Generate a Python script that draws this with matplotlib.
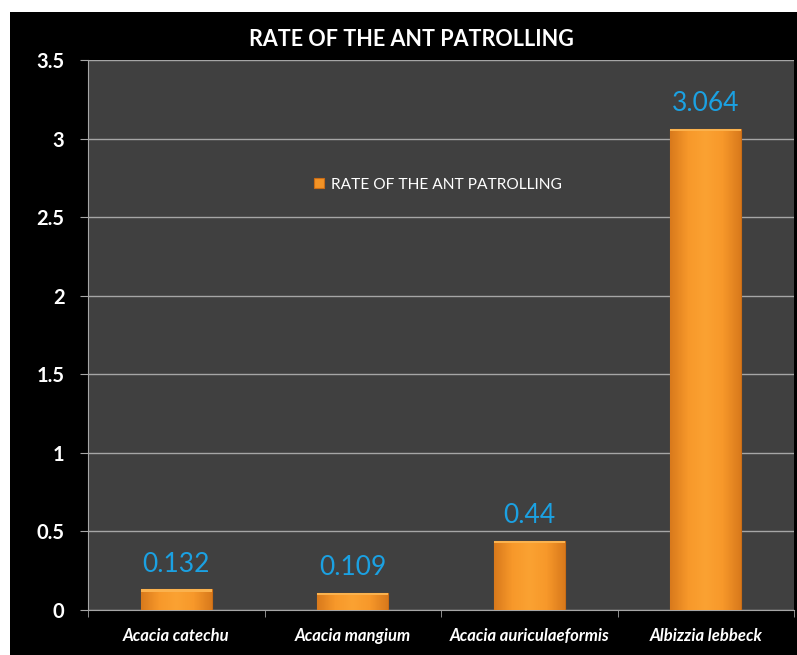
import numpy as np
import matplotlib.pyplot as plt
from matplotlib.patches import Rectangle
from matplotlib.colors import LinearSegmentedColormap

species = ["Acacia catechu", "Acacia mangium", "Acacia auriculaeformis", "Albizzia lebbeck"]
rate = [0.132, 0.109, 0.44, 3.064]
rate_labels = ["0.132", "0.109", "0.44", "3.064"]
yticks = [0, 0.5, 1, 1.5, 2, 2.5, 3, 3.5]
ytick_labels = ["0", "0.5", "1", "1.5", "2", "2.5", "3", "3.5"]
series_name = "RATE OF THE ANT PATROLLING"

plt.rcParams['font.family'] = ['Lato', 'DejaVu Sans']

fig = plt.figure(figsize=(7.97, 6.55), dpi=100)
fig.patch.set_facecolor('white')
# black chart area (white strip on the top and the left)
fig.patches.append(Rectangle((10 / 797, 0), 1, 1 - 12 / 655, transform=fig.transFigure,
                             facecolor='black', edgecolor='none', zorder=-10))

ax = fig.add_axes([88 / 797, 1 - 610 / 655, (794 - 88) / 797, (610 - 60) / 655])
ax.set_facecolor('#404040')

x = np.arange(len(species))
width = 0.4
bars = ax.bar(x, rate, width, color='#f39325', edgecolor='#c96c16', linewidth=0.8, zorder=3)

# horizontal gradient on the bars like the excel bevel
cmap = LinearSegmentedColormap.from_list("orng", ["#d97a1c", "#f7982a", "#fba232", "#f7982a", "#d97a1c"])
grad = np.linspace(0, 1, 64).reshape(1, -1)
for b in bars:
    im = ax.imshow(grad, cmap=cmap, aspect='auto', zorder=3.5,
                   extent=[b.get_x(), b.get_x() + b.get_width(), 0, b.get_height()])
    im.set_clip_path(b)
    ax.add_patch(Rectangle((b.get_x(), b.get_height()), b.get_width(), -0.015,
                           facecolor='#fbb24e', edgecolor='none', zorder=3.6))

for xi, v, lab in zip(x, rate, rate_labels):
    ax.annotate(lab, (xi, v), xytext=(0, 9), textcoords='offset points',
                ha='center', va='bottom', color='#1ba1e2', fontsize=19)

ax.set_xlim(-0.5, len(species) - 0.5)
ax.set_ylim(0, 3.5)
ax.set_yticks(yticks)
ax.set_yticklabels(ytick_labels, color='white', fontweight='bold', fontsize=14.5)
ax.yaxis.grid(True, color='#a6a6a6', linewidth=1)
ax.set_axisbelow(True)

ax.set_xticks(x)
ax.set_xticklabels(species, color='white', fontweight='bold', style='italic', fontsize=12)
ax.tick_params(axis='x', length=0, pad=13)
ax.set_xticks(np.arange(len(species) + 1) - 0.5, minor=True)
ax.tick_params(axis='x', which='minor', length=5, color='#a6a6a6')
ax.tick_params(axis='y', length=6, color='#a6a6a6', pad=11)

for side in ['top', 'right']:
    ax.spines[side].set_visible(False)
for side in ['left', 'bottom']:
    ax.spines[side].set_color('#a6a6a6')

ax.legend([bars[0]], [series_name], loc='center', bbox_to_anchor=(0.496, 0.773),
          frameon=False, labelcolor='white', fontsize=11.2, handlelength=0.6,
          handleheight=0.6, handletextpad=0.5)

fig.text(411 / 797, 1 - 40 / 655, "RATE OF THE ANT PATROLLING", ha='center', va='center',
         color='white', fontweight='bold', fontsize=15.5)

fig.savefig("out.png", dpi=100, facecolor=fig.get_facecolor())
